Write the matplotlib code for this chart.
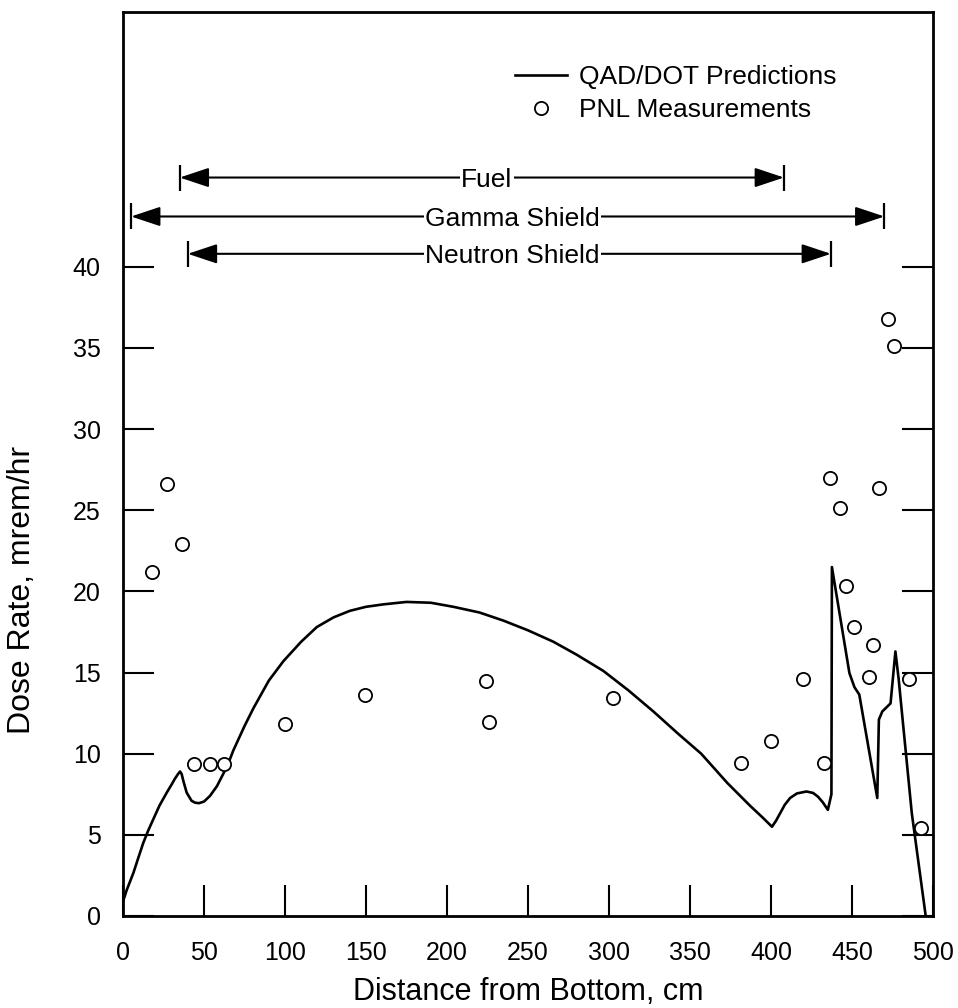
import numpy as np
import matplotlib.pyplot as plt

plt.rcParams['font.family'] = ['Liberation Sans', 'DejaVu Sans']

# QAD/DOT prediction curve
curve_x = [0, 2.3, 6.4, 9.5, 12.5, 15.5, 18.7, 22.5, 27, 30, 32, 34, 35.2, 36.2, 37.3, 39.3,
           42.3, 44.5, 46.9, 50, 53.7, 58, 61.9, 65, 68.1, 75, 80.5, 90, 99, 110, 119.6, 130,
           140, 150, 160.7, 175, 190, 203.9, 220, 234.8, 250, 265.6, 280, 296.5, 312, 327.4,
           343, 356.9, 373, 387, 395, 400.6, 403, 405.7, 408.5, 411.8, 416, 421.9, 426, 429,
           432, 435.1, 437.3, 437.6, 448.4, 451.5, 454.5, 465.6, 466.6, 468.7, 473.8, 476.8,
           478.8, 486.9, 495.5]
curve_y = [0.9, 1.6, 2.65, 3.6, 4.5, 5.25, 5.96, 6.8, 7.6, 8.1, 8.45, 8.75, 8.9, 8.75, 8.3, 7.6,
           7.1, 6.98, 6.95, 7.05, 7.4, 8.0, 8.76, 9.4, 10.2, 11.7, 12.8, 14.5, 15.7, 16.9, 17.8, 18.4,
           18.8, 19.05, 19.2, 19.35, 19.3, 19.05, 18.7, 18.2, 17.6, 16.9, 16.1, 15.1, 13.9, 12.6,
           11.2, 10.0, 8.2, 6.8, 6.05, 5.5, 5.85, 6.34, 6.85, 7.27, 7.55, 7.67, 7.58, 7.35,
           7.0, 6.54, 7.5, 21.5, 14.97, 14.1, 13.64, 7.27, 12.1, 12.6, 13.1, 16.3,
           14.6, 6.34, 0.0]

# PNL measurements
meas_x = [17.7, 26.9, 36.5, 43.7, 54.0, 62.2, 100.2, 149.6, 224, 226, 302.3, 381.3, 400.2,
          419.5, 432.5, 436.4, 442.6, 446.5, 451.4, 460.2, 463.0, 466.9, 472.4, 476.1, 485.0, 492.3]
meas_y = [21.2, 26.6, 22.9, 9.35, 9.35, 9.37, 11.8, 13.6, 14.45, 11.97, 13.4, 9.43, 10.8,
          14.6, 9.43, 26.96, 25.14, 20.35, 17.8, 14.7, 16.7, 26.37, 36.8, 35.1, 14.6, 5.41]

# component extents along the cask
band_names = ['Fuel', 'Gamma Shield', 'Neutron Shield']
band_start = [35, 5, 40]
band_end = [408, 470, 437]
band_label_x = [224.5, 240.5, 240.5]
band_y = [45.5, 43.1, 40.8]

fig = plt.figure(figsize=(9.58, 10.08), dpi=100)
ax = fig.add_axes([0.1284, 0.0913, 0.8455, 0.8968])

ax.plot(curve_x, curve_y, color='k', lw=1.9, solid_joinstyle='round',
        label='QAD/DOT Predictions')
ax.plot(meas_x, meas_y, ls='none', marker='o', ms=9.5, mfc='white', mec='k', mew=1.3,
        label='PNL Measurements')

for name, x0, x1, xc, y in zip(band_names, band_start, band_end, band_label_x, band_y):
    for xe in (x0, x1):
        ax.annotate('', xy=(xe, y), xytext=(xc, y),
                    arrowprops=dict(arrowstyle='-|>,head_length=0.9,head_width=0.3',
                                    color='k', lw=1.5, shrinkA=0, shrinkB=0,
                                    mutation_scale=20))
    ax.plot([x0, x1], [y, y], ls='none', marker='|', ms=19, mew=1.6, color='k')
    ax.text(xc, y, name, ha='center', va='center_baseline', fontsize=19, zorder=5,
            bbox=dict(fc='white', ec='none', pad=1))

ax.set_xlim(0, 500)
ax.set_ylim(0, 55.7)
ax.set_xticks(np.arange(0, 501, 50))
ax.set_yticks(np.arange(0, 41, 5))
ax.tick_params(direction='in', length=22, width=1.5, labelsize=18, right=True, top=False)
ax.tick_params(axis='x', pad=18)
ax.tick_params(axis='y', pad=16)
for s in ax.spines.values():
    s.set_linewidth(2)

ax.legend(loc='upper right', bbox_to_anchor=(0.881, 0.9416), frameon=False, fontsize=19,
          handlelength=1.97, handletextpad=0.45, labelspacing=0.35, borderpad=0,
          borderaxespad=0, numpoints=1)

ax.set_xlabel('Distance from Bottom, cm', fontsize=22)
ax.xaxis.set_label_coords(0.5, -0.068)
ax.set_ylabel('Dose Rate, mrem/hr', fontsize=23)
ax.yaxis.set_label_coords(-0.106, 0.361)

fig.savefig('out.png', dpi=100)
